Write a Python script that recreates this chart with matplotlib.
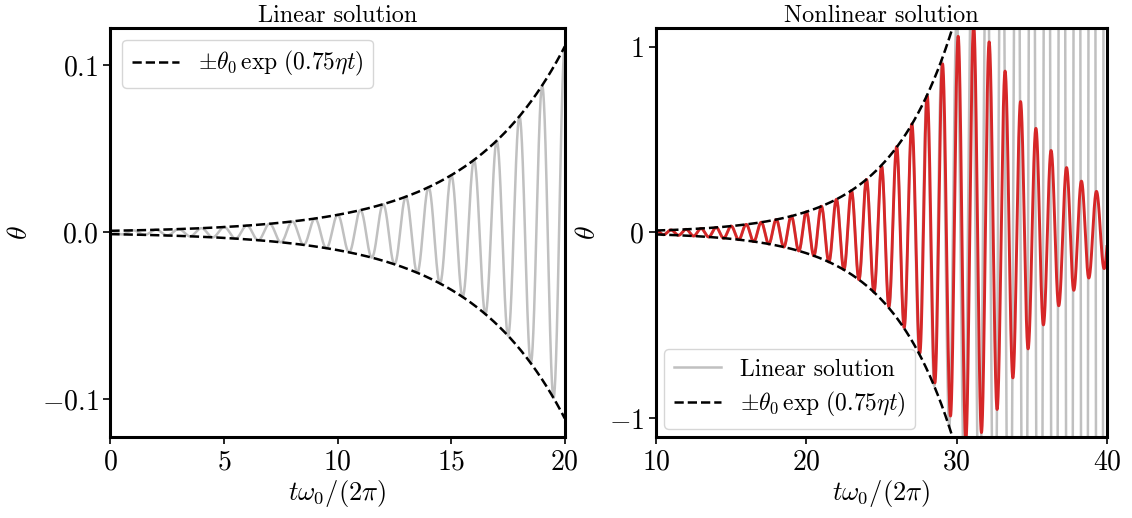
import numpy as np
import matplotlib.pyplot as plt

plt.rcParams['font.family'] = 'serif'
plt.rcParams['font.serif'] = ['cmr10']
plt.rcParams['mathtext.fontset'] = 'cm'
plt.rcParams['font.size'] = 17

# growth envelope: theta0 * exp(0.75 eta t), eta given in units of omega0
theta0 = 0.001
eta = 0.05

# turning points of the nonlinear solution (time in periods, angle)
nl_t = [10.0, 10.5, 11.0, 11.5, 12.0, 12.5, 13.0, 13.5, 14.0, 14.5,
        15.0, 15.5, 16.0, 16.5, 17.0, 17.5, 18.0, 18.5, 19.0, 19.5,
        20.0, 20.5, 21.0, 21.5, 22.0, 22.5, 23.0, 23.5, 24.0, 24.5,
        25.01, 25.49, 26.01, 26.51, 27.02, 27.55, 28.04, 28.55, 29.06, 29.59,
        30.10, 30.61, 31.13, 31.65, 32.16, 32.69, 33.22, 33.74, 34.25, 34.75,
        35.27, 35.77, 36.28, 36.79, 37.31, 37.79, 38.30, 38.79, 39.30, 39.81,
        40.31]
nl_v = [0.0106, -0.0119, 0.0134, -0.0150, 0.0169, -0.0190, 0.0214, -0.0241,
        0.0271, -0.0305, 0.0343, -0.0386, 0.0434, -0.0488, 0.0549, -0.0618,
        0.0695, -0.0782, 0.0880, -0.0990, 0.111, -0.125, 0.141, -0.158,
        0.178, -0.200, 0.225, -0.254, 0.285, -0.321,
        0.355, -0.399, 0.462, -0.511, 0.584, -0.649, 0.736, -0.809, 0.907, -0.987,
        1.055, -1.12, 1.12, -1.076, 1.025, -0.952, 0.868, -0.782, 0.704, -0.626,
        0.560, -0.497, 0.441, -0.394, 0.349, -0.311, 0.276, -0.245, 0.221, -0.194,
        0.18]

left_xticks = [0, 5, 10, 15, 20]
left_yticks = [-0.1, 0.0, 0.1]
right_xticks = [10, 20, 30, 40]
right_yticks = [-1, 0, 1]

env_label = r'$\pm\theta_0\,\exp\,(0.75\eta t)$'


def envelope(T):
    # t omega0 / (2 pi) = T  ->  eta t = 2 pi eta T
    return theta0 * np.exp(0.75 * eta * 2 * np.pi * T)


def through_extrema(t_ext, v_ext, t):
    t_ext = np.asarray(t_ext)
    v_ext = np.asarray(v_ext)
    i = np.clip(np.searchsorted(t_ext, t) - 1, 0, len(t_ext) - 2)
    s = (t - t_ext[i]) / (t_ext[i + 1] - t_ext[i])
    a, b = v_ext[i], v_ext[i + 1]
    return 0.5 * (a + b) + 0.5 * (a - b) * np.cos(np.pi * s)


T = np.linspace(0, 40, 40 * 400 + 1)
lin = envelope(T) * np.cos(2 * np.pi * T)
Tn = np.linspace(10, 40, 30 * 400 + 1)
nonlin = through_extrema(nl_t, nl_v, Tn)

fig = plt.figure(figsize=(11.32, 5.18), dpi=100)
ax1 = fig.add_axes([0.0975, 0.1564, 0.4014, 0.7896])
ax2 = fig.add_axes([0.5795, 0.1564, 0.3984, 0.7896])

# linear solution
m = T <= 20
ax1.plot(T[m], lin[m], color='#c0c0c0', lw=1.8)
ax1.plot(T[m], envelope(T[m]), 'k--', lw=1.8, label=env_label)
ax1.plot(T[m], -envelope(T[m]), 'k--', lw=1.8)
ax1.set_xlim(0, 20)
lim = 1.1 * envelope(20)
ax1.set_ylim(-lim, lim)
ax1.set_xticks(left_xticks)
ax1.set_xticklabels([f'${v}$' for v in left_xticks])
ax1.set_yticks(left_yticks)
ax1.set_yticklabels([f'${v:.1f}$' for v in left_yticks])
ax1.set_title('Linear solution', fontsize=17.5, pad=4)
ax1.legend(loc='upper left', fontsize=17)

# nonlinear solution
m = T >= 10
ax2.plot(T[m], lin[m], color='#c0c0c0', lw=1.8, label='Linear solution')
ax2.plot(Tn, nonlin, color='#d62728', lw=2.1)
ax2.plot(T[m], envelope(T[m]), 'k--', lw=1.8, label=env_label)
ax2.plot(T[m], -envelope(T[m]), 'k--', lw=1.8)
ax2.set_xlim(10, 40)
ax2.set_ylim(-1.1, 1.1)
ax2.set_xticks(right_xticks)
ax2.set_xticklabels([f'${v}$' for v in right_xticks])
ax2.set_yticks(right_yticks)
ax2.set_yticklabels([f'${v}$' for v in right_yticks])
ax2.set_title('Nonlinear solution', fontsize=17.5, pad=4)
ax2.legend(loc='lower left', fontsize=17, borderaxespad=0.35, labelspacing=0.4)

for ax in (ax1, ax2):
    for sp in ax.spines.values():
        sp.set_linewidth(2.2)
    ax.tick_params(width=1.2, length=5, labelsize=20)
    ax.set_xlabel(r'$t\omega_0/(2\pi)$', fontsize=19, labelpad=2)
    ax.set_ylabel(r'$\theta$', fontsize=20, labelpad=6)

fig.savefig('out.png', dpi=100)
